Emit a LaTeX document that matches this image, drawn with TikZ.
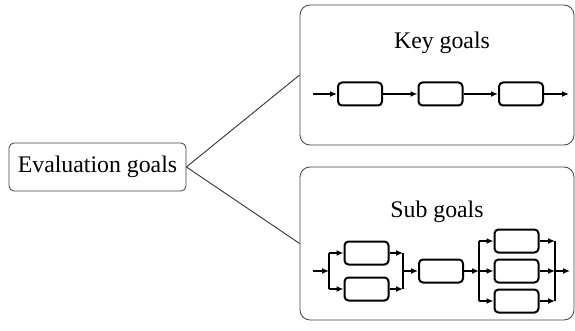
\documentclass[tikz,border=0pt]{standalone}
\usepackage{fontspec}
\setmainfont{Liberation Serif}
\usetikzlibrary{positioning,arrows.meta}

\tikzset{
  panel/.style={draw=black!75,line width=0.8pt,rounded corners=10pt,minimum width=274pt},
  rootbox/.style={draw=black!75,line width=0.8pt,rounded corners=5pt,fill=white,
    minimum width=177pt,minimum height=48pt,inner sep=0pt,font=\fontsize{23.8}{28}\selectfont},
  caption/.style={inner sep=0pt,font=\fontsize{23.8}{28}\selectfont},
  stage/.style={draw,line width=2pt,rounded corners=4pt,minimum width=44pt,minimum height=23pt,inner sep=0pt},
  wire/.style={line width=1.8pt},
  flow/.style={line width=1.8pt,-{Latex[length=7pt,width=6pt]}},
  link/.style={draw=black!80,line width=0.9pt}
}

\begin{document}
\begin{tikzpicture}[x=1pt,y=-1pt,on grid,node distance=80.5pt]
   \useasboundingbox (0,0) rectangle (575,331);
   \node[panel,minimum height=140pt] (keys) at (437,75)    {};
   \node[panel,minimum height=153pt] (subs) at (437,243.5) {};
   \node[rootbox]                    (eval) at (97.5,167)  {Evaluation goals};
   \path[link]
   (eval.east) edge (keys.west)
               edge (subs.west);
   % key goals: plain chain
   \node[caption] (key_title) at (442,43) {Key goals};
   \node[stage]   (k_1)       at (360,94)  {};
   \node[stage]   (k_2)  [right=of k_1]    {};
   \node[stage]   (k_3)  [right=of k_2]    {};
   \coordinate    (k_in)      at (313,94);
   \coordinate    (k_out)     at (569,94);
   \path[flow]
   (k_in) edge (k_1.west)
   (k_1)  edge (k_2.west)
   (k_2)  edge (k_3.west)
   (k_3)  edge (k_out);
   % sub goals: parallel, serial, parallel
   \node[caption] (sub_title) at (437,212) {Sub goals};
   \node[stage]   (s_1)       at (366.5,253) {};
   \node[stage]   (s_2)  [below=36pt of s_1] {};
   \node[stage]   (s_3)       at (441,271)   {};
   \node[stage]   (s_5)       at (516.5,271) {};
   \node[stage]   (s_4)  [above=30pt of s_5] {};
   \node[stage]   (s_6)  [below=30pt of s_5] {};
   \coordinate    (s_in)      at (313,271);
   \coordinate    (fork_1)    at (329,271);
   \coordinate    (join_1)    at (403,271);
   \coordinate    (fork_2)    at (479,271);
   \coordinate    (join_2)    at (555,271);
   \coordinate    (s_out)     at (570,271);
   \draw[wire] (fork_1 |- s_1) -- (fork_1 |- s_2);
   \draw[wire] (join_1 |- s_1) -- (join_1 |- s_2);
   \draw[wire] (fork_2 |- s_4) -- (fork_2 |- s_6);
   \draw[wire] (join_2 |- s_4) -- (join_2 |- s_6);
   \path[flow]
   (s_in)          edge (fork_1)
   (fork_1 |- s_1) edge (s_1.west)
   (fork_1 |- s_2) edge (s_2.west)
   (s_1)           edge (join_1 |- s_1)
   (s_2)           edge (join_1 |- s_2)
   (join_1)        edge (s_3.west)
   (s_3)           edge (fork_2)
   (fork_2 |- s_4) edge (s_4.west)
   (fork_2)        edge (s_5.west)
   (fork_2 |- s_6) edge (s_6.west)
   (s_4)           edge (join_2 |- s_4)
   (s_5)           edge (join_2)
   (s_6)           edge (join_2 |- s_6)
   (join_2)        edge (s_out);
\end{tikzpicture}
\end{document}
